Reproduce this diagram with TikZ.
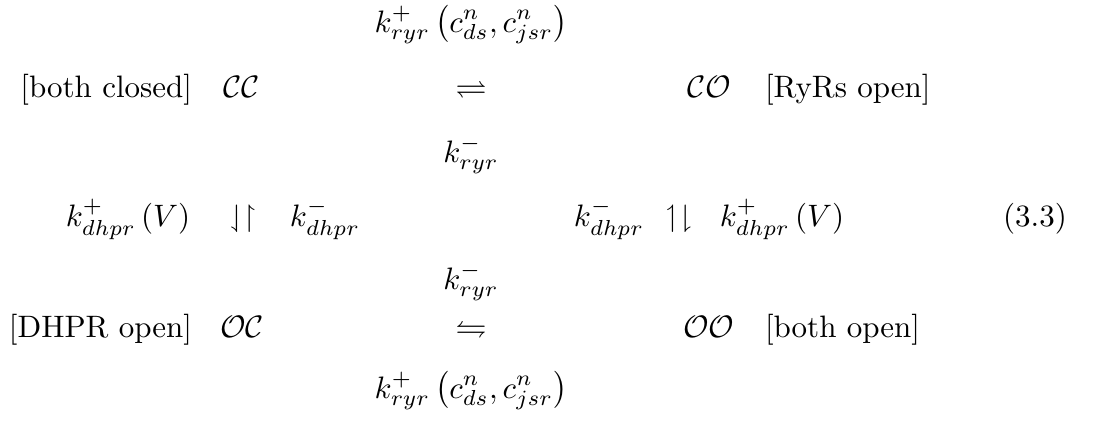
\documentclass[tikz,border=0pt]{standalone}
\usepackage{amsmath,amssymb}
\begin{document}
\begin{tikzpicture}[x=0.3226pt,y=-0.3226pt,
  lab/.style={inner sep=0pt,outer sep=0pt,anchor=base},
  lbl/.style={inner sep=0pt,outer sep=0pt,anchor=base east},
  rbl/.style={inner sep=0pt,outer sep=0pt,anchor=base west}]
\useasboundingbox (0,0) rectangle (1096,427);
% rows (baselines)
\def\ra{32}\def\rb{97}\def\rc{162}\def\rd{226}\def\re{289}\def\rf{337}\def\rg{398}
% top
\node[lab] (ktop) at (471,\ra) {$\displaystyle k^{+}_{ryr}\left(c^{n}_{ds},c^{n}_{jsr}\right)$};
\node[lbl] (lbc) at (192,\rb) {[both closed]};
\node[lab] (CC) at (242,\rb) {$\mathcal{CC}$};
\node[lab] (arA) at (471,\rb) {$\rightleftharpoons$};
\node[lab] (CO) at (709,\rb) {$\mathcal{CO}$};
\node[rbl] (lro) at (765,\rb) {[RyRs open]};
\node[lab] (kmA) at (471,\rc) {$\displaystyle k^{-}_{ryr}$};
% middle
\node[lab] (kpl) at (128,\rd) {$\displaystyle k^{+}_{dhpr}\left(V\right)$};
\node[lab] (arL) at (243,\rd) {$\downharpoonleft\upharpoonright$};
\node[lab] (kml) at (325,\rd) {$\displaystyle k^{-}_{dhpr}$};
\node[lab] (kmr) at (609,\rd) {$\displaystyle k^{-}_{dhpr}$};
\node[lab] (arR) at (679,\rd) {$\upharpoonleft\downharpoonright$};
\node[lab] (kpr) at (782,\rd) {$\displaystyle k^{+}_{dhpr}\left(V\right)$};
\node[lab] (eqn) at (1035,\rd) {(3.3)};
% bottom
\node[lab] (kmB) at (471,\re) {$\displaystyle k^{-}_{ryr}$};
\node[lbl] (ldo) at (192,\rf) {[DHPR open]};
\node[lab] (OC) at (242,\rf) {$\mathcal{OC}$};
\node[lab] (arB) at (471,\rf) {$\leftrightharpoons$};
\node[lab] (OO) at (709,\rf) {$\mathcal{OO}$};
\node[rbl] (lbo) at (765,\rf) {[both open]};
\node[lab] (kbot) at (471,\rg) {$\displaystyle k^{+}_{ryr}\left(c^{n}_{ds},c^{n}_{jsr}\right)$};
\end{tikzpicture}
\end{document}
